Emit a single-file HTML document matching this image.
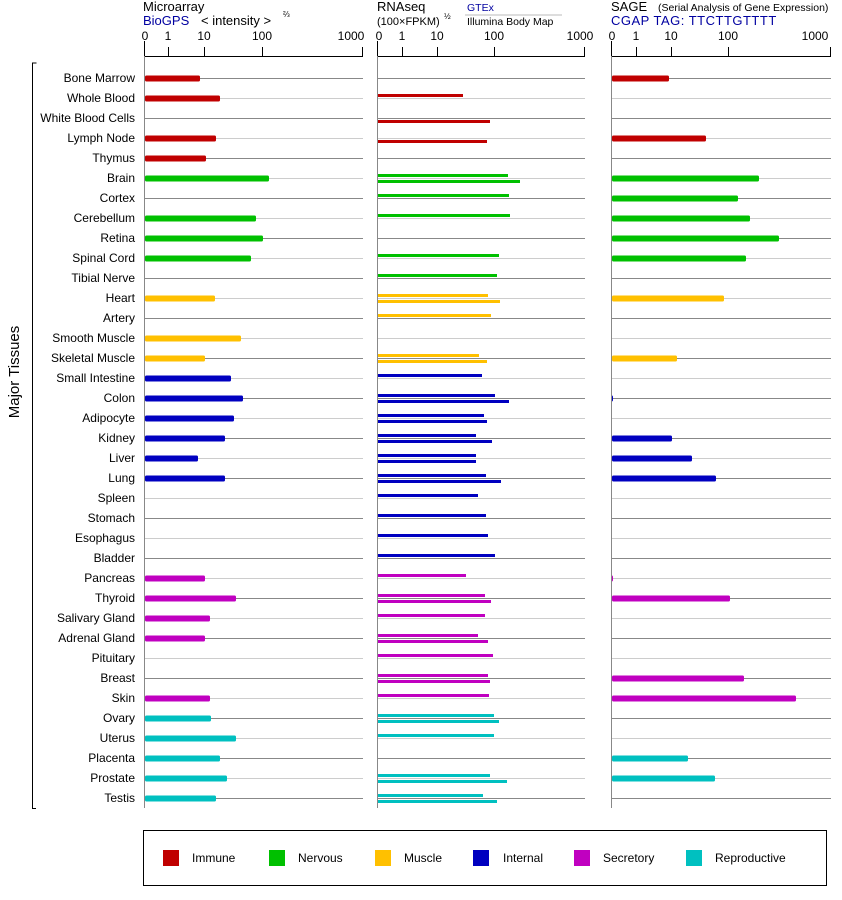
<!DOCTYPE html>
<html><head><meta charset="utf-8"><style>
body{margin:0;background:#fff;}
svg{display:block;font-family:"Liberation Sans",sans-serif;}
</style></head><body>
<svg id="s" width="842" height="900" xmlns="http://www.w3.org/2000/svg">
<rect width="842" height="900" fill="#fff"/>
<g id="grid"></g>
<g id="bars"></g>
<text x="143" y="11" font-size="13">Microarray</text>
<text x="143" y="25" font-size="13" fill="#0000a0">BioGPS</text>
<text x="201" y="25" font-size="13">&lt; intensity &gt;</text>
<text x="283" y="17" font-size="8">⅔</text>
<text x="377" y="11" font-size="13">RNAseq</text>
<text x="377" y="25" font-size="11">(100×FPKM)</text>
<text x="444" y="19" font-size="8">½</text>
<text x="467" y="11" font-size="10.5" fill="#0000a0">GTEx</text>
<line x1="465" y1="15" x2="562" y2="15" stroke="#bbb"/>
<text x="467" y="25" font-size="10.5">Illumina Body Map</text>
<text x="611" y="11" font-size="13">SAGE</text>
<text x="658" y="11" font-size="10.5">(Serial Analysis of Gene Expression)</text>
<text x="611" y="25" font-size="13" fill="#0000a0" letter-spacing="0.5">CGAP TAG: TTCTTGTTTT</text>
<g font-size="12" text-anchor="middle">
<text x="145" y="40">0</text><text x="168" y="40">1</text><text x="204" y="40">10</text><text x="262" y="40">100</text><text x="351" y="40">1000</text>
<text x="379" y="40">0</text><text x="402" y="40">1</text><text x="437" y="40">10</text><text x="494" y="40">100</text><text x="580" y="40">1000</text>
<text x="612" y="40">0</text><text x="636" y="40">1</text><text x="671" y="40">10</text><text x="728" y="40">100</text><text x="815" y="40">1000</text>
</g>
<g stroke="#000" stroke-width="1">
<line x1="144" y1="56.5" x2="363" y2="56.5"/><line x1="377" y1="56.5" x2="585" y2="56.5"/><line x1="611" y1="56.5" x2="831" y2="56.5"/>
<line x1="144.5" y1="41" x2="144.5" y2="56"/><line x1="168.5" y1="47" x2="168.5" y2="56"/><line x1="204.5" y1="47" x2="204.5" y2="56"/><line x1="262.5" y1="47" x2="262.5" y2="56"/><line x1="362.5" y1="47" x2="362.5" y2="56"/>
<line x1="377.5" y1="41" x2="377.5" y2="56"/><line x1="402.5" y1="47" x2="402.5" y2="56"/><line x1="437.5" y1="47" x2="437.5" y2="56"/><line x1="494.5" y1="47" x2="494.5" y2="56"/><line x1="584.5" y1="47" x2="584.5" y2="56"/>
<line x1="611.5" y1="41" x2="611.5" y2="56"/><line x1="636.5" y1="47" x2="636.5" y2="56"/><line x1="671.5" y1="47" x2="671.5" y2="56"/><line x1="728.5" y1="47" x2="728.5" y2="56"/><line x1="830.5" y1="47" x2="830.5" y2="56"/>
</g>
<g stroke="#888"><line x1="144.5" y1="56" x2="144.5" y2="808"/><line x1="377.5" y1="56" x2="377.5" y2="808"/><line x1="611.5" y1="56" x2="611.5" y2="808"/></g>
<path d="M36.5 63 H32.5 V808.5 H36" fill="none" stroke="#000"/>
<text transform="translate(19,372) rotate(-90)" font-size="15" text-anchor="middle">Major Tissues</text>
<g font-size="12" text-anchor="end">
<text x="135" y="82">Bone Marrow</text><text x="135" y="102">Whole Blood</text><text x="135" y="122">White Blood Cells</text><text x="135" y="142">Lymph Node</text><text x="135" y="162">Thymus</text><text x="135" y="182">Brain</text><text x="135" y="202">Cortex</text><text x="135" y="222">Cerebellum</text><text x="135" y="242">Retina</text><text x="135" y="262">Spinal Cord</text><text x="135" y="282">Tibial Nerve</text><text x="135" y="302">Heart</text><text x="135" y="322">Artery</text><text x="135" y="342">Smooth Muscle</text><text x="135" y="362">Skeletal Muscle</text><text x="135" y="382">Small Intestine</text><text x="135" y="402">Colon</text><text x="135" y="422">Adipocyte</text><text x="135" y="442">Kidney</text><text x="135" y="462">Liver</text><text x="135" y="482">Lung</text><text x="135" y="502">Spleen</text><text x="135" y="522">Stomach</text><text x="135" y="542">Esophagus</text><text x="135" y="562">Bladder</text><text x="135" y="582">Pancreas</text><text x="135" y="602">Thyroid</text><text x="135" y="622">Salivary Gland</text><text x="135" y="642">Adrenal Gland</text><text x="135" y="662">Pituitary</text><text x="135" y="682">Breast</text><text x="135" y="702">Skin</text><text x="135" y="722">Ovary</text><text x="135" y="742">Uterus</text><text x="135" y="762">Placenta</text><text x="135" y="782">Prostate</text><text x="135" y="802">Testis</text>
</g>
<rect x="143.5" y="830.5" width="683" height="55" fill="none" stroke="#000"/>
<g font-size="12">
<rect x="163" y="850" width="16" height="16" fill="#c00000"/><text x="192" y="862">Immune</text>
<rect x="269" y="850" width="16" height="16" fill="#00c000"/><text x="298" y="862">Nervous</text>
<rect x="375" y="850" width="16" height="16" fill="#ffc000"/><text x="404" y="862">Muscle</text>
<rect x="473" y="850" width="16" height="16" fill="#0000c0"/><text x="503" y="862">Internal</text>
<rect x="574" y="850" width="16" height="16" fill="#c000c0"/><text x="603" y="862">Secretory</text>
<rect x="686" y="850" width="16" height="16" fill="#00c0c0"/><text x="715" y="862">Reproductive</text>
</g>
</svg>
<script>
var C=['#c00000','#00c000','#ffc000','#0000c0','#c000c0','#00c0c0'];
var cat=[0,0,0,0,0,1,1,1,1,1,1,2,2,2,2,3,3,3,3,3,3,3,3,3,3,4,4,4,4,4,4,4,5,5,5,5,5];
var ma=[200,220,0,216,206,269,0,256,263,251,0,215,0,241,205,231,243,234,225,198,225,0,0,0,0,205,236,210,205,0,0,210,211,236,220,227,216];
var rt=[0,463,0,0,0,508,509,510,0,499,497,488,491,0,479,482,495,484,476,476,486,478,486,488,495,466,485,485,478,493,488,489,494,494,0,490,483];
var rb=[0,0,490,487,0,520,0,0,0,0,0,500,0,0,487,0,509,487,492,476,501,0,0,0,0,0,491,0,488,0,490,0,499,0,0,507,497];
var sg=[669,0,0,706,0,759,738,750,779,746,0,724,0,0,677,0,613,0,672,692,716,0,0,0,0,613,730,0,0,0,744,796,0,0,688,715,0];
var NS='http://www.w3.org/2000/svg',g=document.getElementById('grid'),b=document.getElementById('bars');
function el(p,t,a){var e=document.createElementNS(NS,t);for(var k in a)e.setAttribute(k,a[k]);p.appendChild(e);}
for(var i=0;i<37;i++){var y=78+20*i,s=i%2?'#ccc':'#888';
[[145,363],[378,585],[612,831]].forEach(function(r){el(g,'line',{x1:r[0],x2:r[1],y1:y+.5,y2:y+.5,stroke:s});});
var c=C[cat[i]];
if(ma[i])el(b,'rect',{x:145,y:y-2.5,width:ma[i]-145,height:6,fill:c,rx:1.5});
if(rt[i])el(b,'rect',{x:378,y:y-4,width:rt[i]-378,height:3,fill:c});
if(rb[i])el(b,'rect',{x:378,y:y+2,width:rb[i]-378,height:3,fill:c});
if(sg[i])el(b,'rect',{x:612,y:y-2.5,width:sg[i]-612,height:6,fill:c,rx:1.5});}
</script>
</body></html>
